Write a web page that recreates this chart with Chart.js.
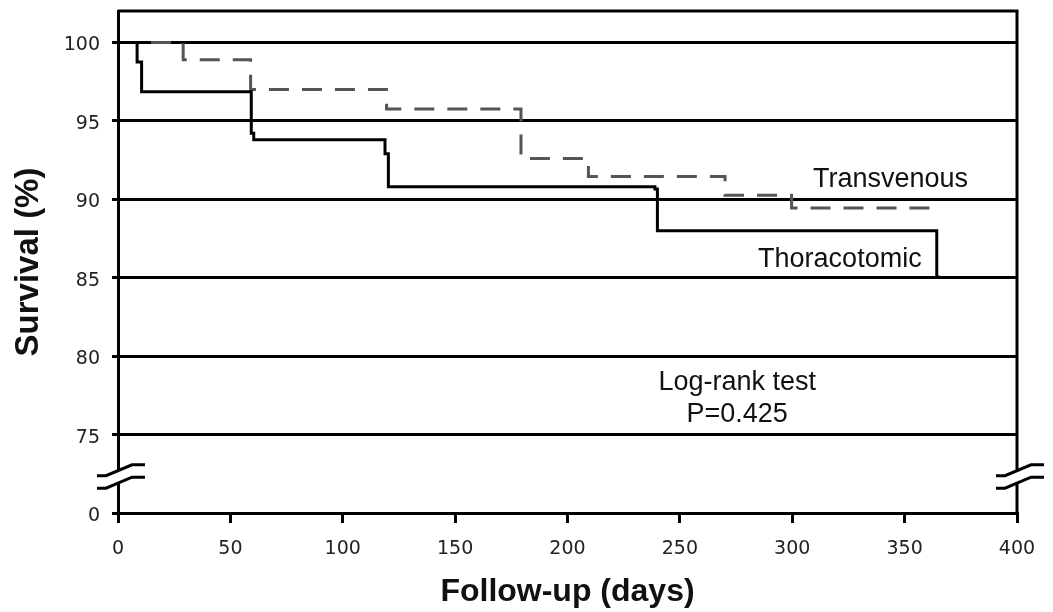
<!DOCTYPE html>
<html>
<head>
<meta charset="utf-8">
<script src="https://cdn.jsdelivr.net/npm/chart.js@4.4.1/dist/chart.umd.min.js"></script>
<style>
  body { margin: 0; background: #fff; }
  #survChart { display: block; }
</style>
</head>
<body>
<canvas id="survChart" width="1053" height="612"></canvas>
<script>
// Kaplan-Meier curves, survival (%) by follow-up day
var thoracoDays = [0, 8.5, 10.5, 59.3, 60.4, 118.8, 120.3, 238.9, 240, 364.3, 365.6];
var thoracoSurv = [100, 98.75, 96.85, 94.2, 93.8, 92.9, 90.8, 90.65, 88.0, 85.05, 85.05];

var transvDays = [0, 29, 59, 119.5, 179.3, 209.3, 270.1, 299.7, 365.8];
var transvSurv = [100, 98.9, 97.0, 95.75, 92.6, 91.45, 90.25, 89.45, 89.45];

// axis is broken below 75: the bottom tick (70 on the scale) stands for 0
var yTickValues = [70, 75, 80, 85, 90, 95, 100];
var yTickLabels = ['0', '75', '80', '85', '90', '95', '100'];
var axisBreakAt = 72.33;

var curveLabels = ['Transvenous', 'Thoracotomic'];
var testLabels = ['Log-rank test', 'P=0.425'];

function toPoints(days, surv) {
    return days.map(function(d, i) {
        return { x: d, y: surv[i] };
    });
}

var textFont = '27px "Liberation Sans", Arial, sans-serif';
var tickFont = { family: '"DejaVu Sans", sans-serif', size: 19 };

// top/right frame, axis break marks and the text notes
var extras = {
    id: 'extras',
    afterDraw: function(chart) {
        var ctx = chart.ctx;
        var a = chart.chartArea;
        var xs = chart.scales.x;
        var ys = chart.scales.y;
        ctx.save();
        ctx.strokeStyle = '#000';
        ctx.lineWidth = 3;
        ctx.beginPath();
        ctx.moveTo(a.left, a.top);
        ctx.lineTo(a.right, a.top);
        ctx.lineTo(a.right, a.bottom);
        ctx.stroke();

        var yc = ys.getPixelForValue(axisBreakAt);
        var shape = [[-21, 5.5], [-12, 5.5], [14, -5.5], [27, -5.5]];
        var gap = 6.2;
        [a.left, a.right].forEach(function(x0) {
            ctx.fillStyle = '#fff';
            ctx.beginPath();
            shape.forEach(function(p, i) {
                if (i == 0) ctx.moveTo(x0 + p[0], yc + p[1] - gap);
                else ctx.lineTo(x0 + p[0], yc + p[1] - gap);
            });
            shape.slice().reverse().forEach(function(p) {
                ctx.lineTo(x0 + p[0], yc + p[1] + gap);
            });
            ctx.closePath();
            ctx.fill();
            [-gap, gap].forEach(function(off) {
                ctx.beginPath();
                shape.forEach(function(p, i) {
                    if (i == 0) ctx.moveTo(x0 + p[0], yc + p[1] + off);
                    else ctx.lineTo(x0 + p[0], yc + p[1] + off);
                });
                ctx.stroke();
            });
        });

        ctx.fillStyle = '#111';
        ctx.font = textFont;
        ctx.textBaseline = 'alphabetic';
        ctx.textAlign = 'left';
        ctx.fillText(curveLabels[0], xs.getPixelForValue(309.2), ys.getPixelForValue(90.8));
        ctx.fillText(curveLabels[1], xs.getPixelForValue(284.8), ys.getPixelForValue(85.7));
        ctx.textAlign = 'center';
        ctx.fillText(testLabels[0], xs.getPixelForValue(275.5), ys.getPixelForValue(77.85));
        ctx.fillText(testLabels[1], xs.getPixelForValue(275.5), ys.getPixelForValue(75.83));
        ctx.restore();
    }
};

var survChart = new Chart(document.getElementById('survChart'), {
    type: 'line',
    data: {
        datasets: [{
            label: 'Thoracotomic',
            data: toPoints(thoracoDays, thoracoSurv),
            stepped: true,
            borderColor: '#000',
            borderWidth: 3,
            borderJoinStyle: 'miter',
            pointRadius: 0,
            fill: false
        }, {
            label: 'Transvenous',
            data: toPoints(transvDays, transvSurv),
            stepped: true,
            borderColor: '#555',
            borderWidth: 3,
            borderDash: [20, 13],
            borderJoinStyle: 'miter',
            pointRadius: 0,
            fill: false
        }]
    },
    options: {
        responsive: false,
        animation: false,
        devicePixelRatio: 1,
        layout: {
            padding: { top: 11, right: 36, bottom: 0, left: 0 }
        },
        plugins: {
            legend: { display: false },
            tooltip: { enabled: false }
        },
        scales: {
            x: {
                type: 'linear',
                min: 0,
                max: 400,
                afterFit: function(s) {
                    s.height = 99;
                    s.paddingLeft = 0;
                    s.paddingRight = 0;
                },
                ticks: {
                    stepSize: 50,
                    maxRotation: 0,
                    autoSkip: false,
                    padding: 15,
                    color: '#222',
                    font: tickFont
                },
                grid: {
                    drawOnChartArea: false,
                    color: '#000',
                    lineWidth: 3,
                    tickLength: 10
                },
                border: { display: true, color: '#000', width: 3 },
                title: {
                    display: true,
                    text: 'Follow-up (days)',
                    color: '#111',
                    font: { family: '"Liberation Sans", Arial, sans-serif', size: 32, weight: 'bold' },
                    padding: { top: 0, bottom: 1 }
                }
            },
            y: {
                type: 'linear',
                min: 70,
                max: 102,
                afterBuildTicks: function(s) {
                    s.ticks = yTickValues.map(function(v) { return { value: v }; });
                },
                afterFit: function(s) {
                    s.width = 118;
                    s.paddingTop = 0;
                    s.paddingBottom = 0;
                },
                ticks: {
                    callback: function(v, i) { return yTickLabels[i]; },
                    padding: 12,
                    labelOffset: 3,
                    color: '#222',
                    font: tickFont
                },
                grid: {
                    color: '#000',
                    lineWidth: 3,
                    tickLength: 6
                },
                border: { display: true, color: '#000', width: 3 },
                title: {
                    display: true,
                    text: 'Survival (%)',
                    color: '#111',
                    font: { family: '"Liberation Sans", Arial, sans-serif', size: 33, weight: 'bold' },
                    padding: { top: 9, bottom: 0 }
                }
            }
        }
    },
    plugins: [extras]
});
</script>
</body>
</html>
